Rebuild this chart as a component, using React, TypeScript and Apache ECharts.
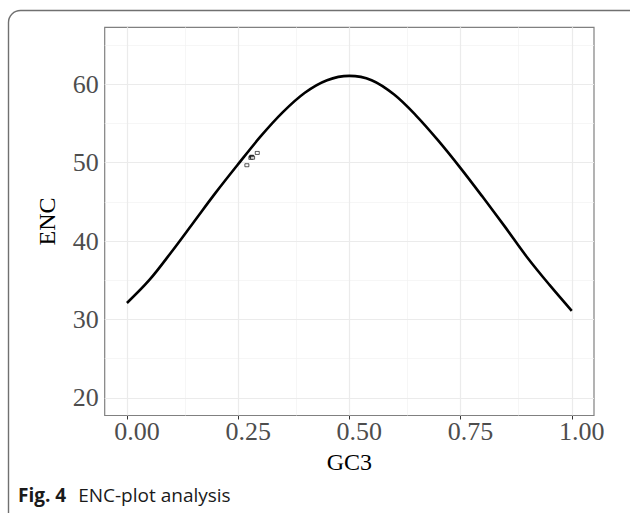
import React, { useEffect, useRef } from "react";
import * as echarts from "echarts";

// Expected ENC curve
const gc3 = [0, 0.05, 0.1, 0.15, 0.2, 0.25, 0.3, 0.35, 0.4, 0.45, 0.5, 0.55, 0.6, 0.65, 0.7, 0.75, 0.8, 0.85, 0.9, 0.95, 1.0];
const encExpected = [32.1, 35.0, 38.6, 42.4, 46.2, 49.8, 53.3, 56.4, 58.9, 60.5, 61.05, 60.5, 58.7, 56.0, 52.8, 49.3, 45.6, 41.8, 37.9, 34.4, 31.1];

// Observed genes
const geneGC3 = [0.2696, 0.2785, 0.2805, 0.2825, 0.293];
const geneENC = [49.66, 50.6, 50.75, 50.62, 51.23];

const xTicks = [0, 0.25, 0.5, 0.75, 1.0];
const xMinor = [0.125, 0.375, 0.625, 0.875];
const yTicks = [20, 30, 40, 50, 60];
const yMinor = [25, 35, 45, 55, 65];

const serif = "'Liberation Serif', 'DejaVu Serif', serif";
const sans = "'Open Sans', 'Noto Sans', sans-serif";

export default function App() {
  const ref = useRef<HTMLDivElement>(null);
  useEffect(() => {
    if (!ref.current) return;
    const chart = echarts.init(ref.current, undefined, { renderer: "svg" });
    const majorStyle = { color: "#EBEBEB", width: 1.2, type: "solid" as const };
    const minorStyle = { color: "#F2F2F2", width: 0.7, type: "solid" as const };
    const gridLines = [
      ...xMinor.map((v) => ({ xAxis: v, lineStyle: minorStyle })),
      ...yMinor.map((v) => ({ yAxis: v, lineStyle: minorStyle })),
      ...xTicks.map((v) => ({ xAxis: v, lineStyle: majorStyle })),
      ...yTicks.map((v) => ({ yAxis: v, lineStyle: majorStyle })),
    ];
    chart.setOption({
      animation: false,
      backgroundColor: "#fff",
      grid: {
        left: 104.7,
        right: 36,
        top: 27.3,
        bottom: 97.5,
        show: true,
        borderColor: "#808080",
        borderWidth: 1.2,
        backgroundColor: "#fff",
        z: 0,
      },
      xAxis: {
        type: "value",
        min: -0.05,
        max: 1.05,
        splitLine: { show: false },
        axisLine: { show: false },
        axisTick: {
          show: true,
          customValues: xTicks,
          length: 4,
          lineStyle: { color: "#333333", width: 1 },
        },
        axisLabel: {
          customValues: xTicks,
          formatter: (v: number) => v.toFixed(2),
          fontFamily: serif,
          fontSize: 26,
          color: "#4D4D4D",
          margin: 3,
          padding: [0, 0, 0, 20],
        },
        name: "GC3",
        nameLocation: "middle",
        nameGap: 34,
        nameTextStyle: { fontFamily: serif, fontSize: 24, color: "#000" },
      },
      yAxis: {
        type: "value",
        min: 17.75,
        max: 67.25,
        splitLine: { show: false },
        axisLine: { show: false },
        axisTick: {
          show: true,
          customValues: yTicks,
          length: 4,
          lineStyle: { color: "#333333", width: 1 },
        },
        axisLabel: {
          customValues: yTicks,
          formatter: (v: number) => String(v),
          fontFamily: serif,
          fontSize: 26,
          color: "#4D4D4D",
          margin: 6,
        },
        name: "ENC",
        nameLocation: "middle",
        nameGap: 46,
        nameRotate: 90,
        nameTextStyle: { fontFamily: serif, fontSize: 24, color: "#000" },
      },
      series: [
        {
          type: "line",
          data: [],
          z: 0,
          silent: true,
          markLine: {
            silent: true,
            symbol: "none",
            label: { show: false },
            animation: false,
            data: gridLines,
          },
        },
        {
          type: "line",
          data: gc3.map((x, i) => [x, encExpected[i]]),
          smooth: 0.35,
          showSymbol: false,
          z: 5,
          lineStyle: { color: "#000", width: 2.6 },
        },
        {
          type: "scatter",
          data: geneGC3.map((x, i) => ({
            value: [x, geneENC[i]],
            itemStyle: i === 2 ? { color: "#000" } : undefined,
          })),
          symbol: "rect",
          symbolSize: [4, 3],
          z: 6,
          itemStyle: { color: "#fff", borderColor: "#000", borderWidth: 0.8 },
        },
      ],
      graphic: [
        {
          type: "rect",
          shape: { x: 8.5, y: 10.5, width: 640, height: 520, r: 12 },
          style: { fill: "none", stroke: "#707070", lineWidth: 1.4 },
          silent: true,
          z: 10,
        },
        {
          type: "text",
          left: 18,
          top: 485,
          style: {
            text: "{b|Fig. 4}{r|ENC-plot analysis}",
            rich: {
              b: { fontFamily: sans, fontWeight: "bold", fontSize: 19, fill: "#1a1a1a" },
              r: { fontFamily: sans, fontSize: 19, fill: "#1a1a1a", padding: [0, 0, 0, 12] },
            },
          },
          z: 10,
        },
      ],
    });
    return () => chart.dispose();
  }, []);
  return (
    <div
      ref={ref}
      style={{ position: "fixed", left: 0, top: 0, width: 630, height: 513, background: "#fff" }}
    />
  );
}
